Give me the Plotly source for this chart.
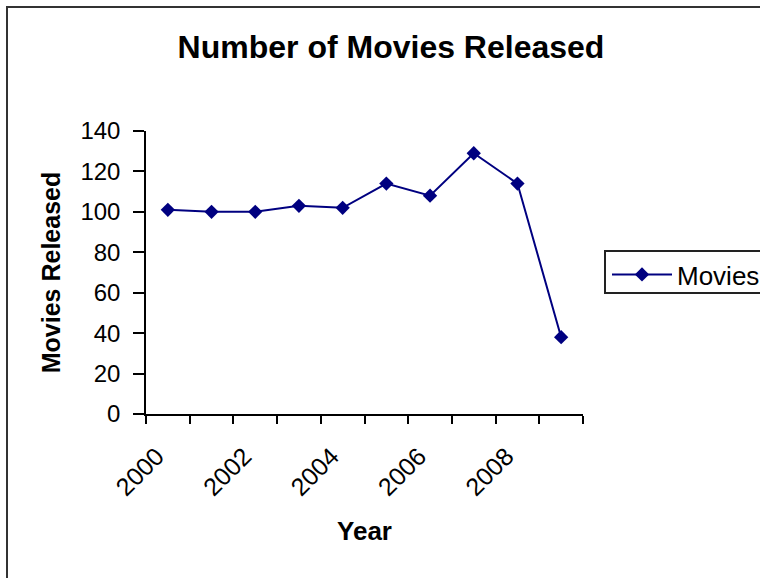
import plotly.graph_objects as go

years = ["2000", "2001", "2002", "2003", "2004", "2005", "2006", "2007", "2008", "2009"]
movies = [101, 100, 100, 103, 102, 114, 108, 129, 114, 38]
y_ticks = [0, 20, 40, 60, 80, 100, 120, 140]
x_label_years = ["2000", "2002", "2004", "2006", "2008"]

FONT = "Liberation Sans, Arial, sans-serif"
NAVY = "#000080"

# plot area in pixels
L, R, T, B = 146, 583, 131, 414
W, H = 760, 578

idx = list(range(len(years)))
label_pos = [years.index(y) for y in x_label_years]
boundaries = [i - 0.5 for i in range(len(years) + 1)]

fig = go.Figure()
fig.add_trace(go.Scatter(
    x=idx, y=movies, mode="lines+markers", name="Movies",
    line=dict(color=NAVY, width=2),
    marker=dict(symbol="diamond", size=11, color=NAVY),
))

def px(xp):
    return (xp - L) / (R - L)

def py(yp):
    return (B - yp) / (B - T)

fig.update_layout(
    width=W, height=H,
    margin=dict(l=L, r=W - R, t=T, b=H - B, autoexpand=False),
    paper_bgcolor="white", plot_bgcolor="white",
    font=dict(family=FONT, color="black", size=24),
    title=dict(text="<b>Number of Movies Released</b>",
               font=dict(family=FONT, size=32, color="black"),
               x=391 / W, xref="container", xanchor="center",
               y=1 - 47 / H, yref="container", yanchor="middle"),
    showlegend=True,
    legend=dict(x=px(607), y=py(251), xanchor="left", yanchor="top",
                borderwidth=0, itemwidth=60,
                font=dict(family=FONT, size=26, color="black"),
                bgcolor="rgba(0,0,0,0)"),
    xaxis=dict(
        range=[-0.5, len(years) - 0.5],
        tickmode="array", tickvals=label_pos, ticktext=x_label_years,
        ticks="", tickangle=-45, ticklabelstandoff=16, ticklabelshift=-11,
        tickfont=dict(family=FONT, size=25, color="black"),
        showline=True, linecolor="black", linewidth=1.5,
        showgrid=False, zeroline=False,
        minor=dict(tickmode="array", tickvals=boundaries, ticks="outside",
                   ticklen=8, tickwidth=1.5, tickcolor="black", showgrid=False),
        title=dict(text="<b>Year</b>", font=dict(family=FONT, size=26, color="black"),
                   standoff=22),
    ),
    yaxis=dict(
        range=[0, 140], tickmode="array", tickvals=y_ticks,
        ticks="outside", ticklen=11, tickwidth=1.5, tickcolor="black",
        ticklabelstandoff=8,
        tickfont=dict(family=FONT, size=24, color="black"),
        showline=True, linecolor="black", linewidth=1.5,
        showgrid=False, zeroline=False,
        title=dict(text="<b>Movies Released</b>", font=dict(family=FONT, size=25, color="black"),
                   standoff=13),
    ),
    shapes=[
        dict(type="rect", xref="paper", yref="paper",
             x0=px(7), x1=px(775), y0=py(595), y1=py(7),
             line=dict(color="#333333", width=2), layer="below"),
        dict(type="rect", xref="paper", yref="paper",
             x0=px(605), x1=px(775), y0=py(293), y1=py(251),
             line=dict(color="#222222", width=2), layer="below"),
    ],
)

fig.write_html("out.html")
